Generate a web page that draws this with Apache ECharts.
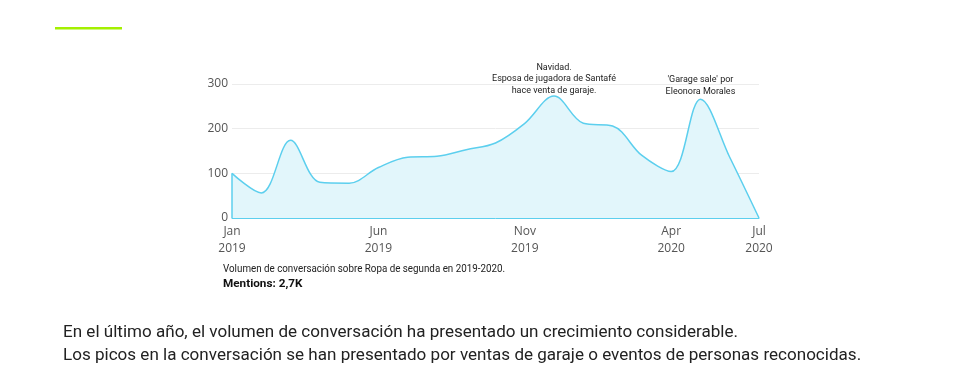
<!DOCTYPE html>
<html><head><meta charset="utf-8">
<script src="https://cdn.jsdelivr.net/npm/echarts@6/dist/echarts.min.js"></script>
<style>html,body{margin:0;padding:0;background:#fff}#c{width:980px;height:380px}</style>
</head><body><div id="c"></div>
<script>
const months = ['2019-01','2019-02','2019-03','2019-04','2019-05','2019-06','2019-07','2019-08','2019-09','2019-10','2019-11','2019-12','2020-01','2020-02','2020-03','2020-04','2020-05','2020-06','2020-07'];
const mentions = [100,56,174,80,78,113,136,138,153,168,212,273,212,206,140,104,266,136,0];
const xTickLabels = {0:'Jan\n2019',5:'Jun\n2019',10:'Nov\n2019',15:'Apr\n2020',18:'Jul\n2020'};
const yTicks = [0,100,200,300];
const annotations = [
  {month:'2019-12', text:'Navidad.\nEsposa de jugadora de Santafé\nhace venta de garaje.', dist:0},
  {month:'2020-05', text:"'Garage sale' por\nEleonora Morales", dist:2}
];
const caption = 'Volumen de conversación sobre Ropa de segunda en 2019-2020.';
const captionBold = 'Mentions: 2,7K';
const bodyLines = ['En el último año, el volumen de conversación ha presentado un crecimiento considerable.',
  'Los picos en la conversación se han presentado por ventas de garaje o eventos de personas reconocidas.'];

function fitScale(text, font, targetW){
  const ctx=document.createElement('canvas').getContext('2d');
  ctx.font=font; return targetW/ctx.measureText(text).width;
}
const bodyScale = fitScale(bodyLines[0], '17px Roboto', 675);
const capScale = fitScale(caption, '11px Roboto', 282);
const boldScale = fitScale(captionBold, 'bold 11px Roboto', 76);

const lineColor = '#5ccfee';
const chart = echarts.init(document.getElementById('c'));
chart.setOption({
  animation:false,
  grid:{left:232,right:221,top:84,bottom:162},
  xAxis:{type:'category',data:months,boundaryGap:false,
    axisLine:{show:true,lineStyle:{color:lineColor,width:1}},
    axisTick:{show:false},
    axisLabel:{interval:0,margin:5,color:'#555',fontFamily:'Open Sans',fontSize:12,lineHeight:17,
      formatter:(v,i)=>xTickLabels[i]||''}},
  yAxis:{type:'value',min:0,max:300,interval:100,
    axisLine:{show:false},axisTick:{show:false},
    splitLine:{lineStyle:{color:'#ececec'}},
    axisLabel:{margin:4,color:'#555',fontFamily:'Open Sans',fontSize:12,
      formatter:v=>yTicks.includes(v)?String(v):''}},
  series:[{type:'line',data:mentions,smooth:0.35,symbol:'none',
    lineStyle:{color:lineColor,width:1.5},
    areaStyle:{color:'#e2f6fb',opacity:1},
    markLine:{silent:true,symbol:'none',label:{show:false},lineStyle:{color:lineColor,type:'solid',width:1.5},
      data:[[{coord:[months[0],0]},{coord:[months[0],mentions[0]]}]]},
    markPoint:{symbol:'circle',symbolSize:0,
      data:annotations.map(a=>({coord:[a.month,mentions[months.indexOf(a.month)]],value:a.text,
        label:{distance:a.dist}})),
      label:{show:true,position:'top',formatter:p=>p.value,color:'#222',
        fontFamily:'Roboto',fontSize:9,lineHeight:11.5,align:'center'}}}],
  graphic:[
    {type:'rect',shape:{x:55,y:27,width:67,height:2.5},style:{fill:'#a4f000'}},
    {type:'text',x:223,y:264,scaleX:capScale,style:{text:caption,font:'11px Roboto',fill:'#222'}},
    {type:'text',x:223,y:278,scaleX:boldScale,style:{text:captionBold,font:'bold 11.5px Roboto',fill:'#111'}},
    {type:'text',x:63,y:324,scaleX:bodyScale,style:{text:bodyLines[0],font:'17px Roboto',fill:'#222'}},
    {type:'text',x:63,y:347,scaleX:bodyScale,style:{text:bodyLines[1],font:'17px Roboto',fill:'#222'}}
  ]
});
</script></body></html>
